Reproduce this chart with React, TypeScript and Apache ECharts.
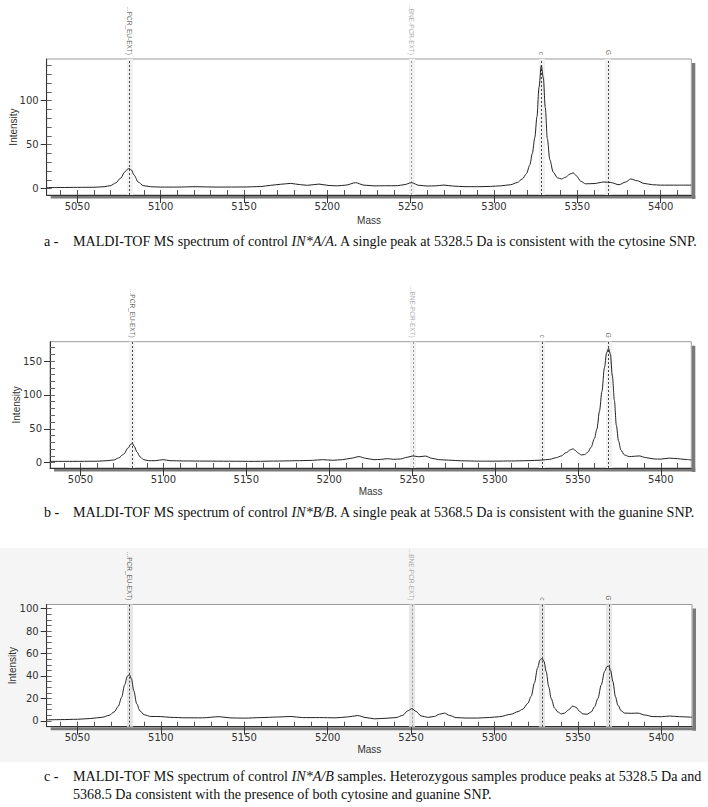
import React, { useEffect, useRef } from "react";
import * as echarts from "echarts";

// ---------- data ----------
const X_MIN = 5031.6;
const X_MAX = 5418.4;
const X_LABELS = [5050, 5100, 5150, 5200, 5250, 5300, 5350, 5400];
const X_MINOR = [5040, 5050, 5060, 5070, 5080, 5090, 5100, 5110, 5120, 5130, 5140, 5150, 5160, 5170, 5180, 5190, 5200, 5210, 5220, 5230, 5240, 5250, 5260, 5270, 5280, 5290, 5300, 5310, 5320, 5330, 5340, 5350, 5360, 5370, 5380, 5390, 5400, 5410];

const Y_LABELS_A = [0, 50, 100];
const Y_MINOR_A = [0, 10, 20, 30, 40, 50, 60, 70, 80, 90, 100, 110, 120, 130, 140];
const Y_LABELS_B = [0, 50, 100, 150];
const Y_MINOR_B = [0, 10, 20, 30, 40, 50, 60, 70, 80, 90, 100, 110, 120, 130, 140, 150, 160, 170];
const Y_LABELS_C = [0, 20, 40, 60, 80, 100];
const Y_MINOR_C = [0, 5, 10, 15, 20, 25, 30, 35, 40, 45, 50, 55, 60, 65, 70, 75, 80, 85, 90, 95, 100];

const MARKER_MASS = [5081.2, 5250.5, 5328.5, 5368.5];
const MARKER_NAMES = ["...PCR_EU-EXT)", "...BNE-PCR-EXT)", "c", "G"];

const SPECTRUM_A = [
  [5031.6, 1.2], [5040, 1.3], [5050, 1.5], [5060, 1.6], [5066, 2.2], [5070, 3.5], [5073, 6.5], [5076, 12],
  [5078.5, 19], [5080, 22], [5081.2, 23], [5082.5, 21], [5084, 15.5], [5086.5, 7.5], [5089.5, 3.5], [5094, 2.2],
  [5100, 1.8], [5110, 1.8], [5120, 2.2], [5135, 1.8], [5150, 1.9], [5160, 2.4], [5166, 3.8], [5172, 5],
  [5178, 6], [5184, 4.5], [5188, 3.8], [5195, 5.2], [5201, 3.6], [5206, 3.2], [5211, 4], [5217, 6.8],
  [5222, 4], [5228, 3.2], [5235, 3.3], [5242, 3.4], [5246, 4.5], [5250.5, 6.8], [5255, 3.8], [5260, 3],
  [5265, 3.2], [5270, 4.1], [5275, 3], [5282, 2.3], [5290, 2.2], [5298, 2.6], [5304, 3.2], [5310, 4.5],
  [5314, 7], [5317, 11], [5319.5, 17], [5321.5, 27], [5323, 40], [5324.5, 58], [5325.8, 82], [5327, 115],
  [5328.4, 140], [5329.6, 126], [5330.8, 92], [5332, 57], [5333.5, 33], [5335.5, 19], [5338, 12.5], [5340.5, 11],
  [5343, 13], [5345.5, 16.5], [5347.5, 18], [5349.5, 14.5], [5352, 8.5], [5355, 5.5], [5360, 5.8], [5366, 7.6],
  [5370, 7], [5375, 4.5], [5379, 7.5], [5382, 11], [5386, 9], [5390, 6], [5395, 4.5], [5400, 4],
  [5410, 4], [5418.4, 4],
];

const SPECTRUM_B = [
  [5031.5, 2], [5045, 2], [5060, 2.2], [5066, 3], [5070, 4], [5073, 7], [5076, 12.5], [5078.8, 22],
  [5080.2, 27], [5081.2, 28.5], [5082.5, 24], [5084, 16], [5086, 8.5], [5088, 4.5], [5091, 3], [5095, 3],
  [5100, 4.5], [5104, 3], [5112, 2.6], [5125, 2.4], [5140, 2.2], [5155, 2], [5170, 2.5], [5182, 3],
  [5190, 3.5], [5196, 4.5], [5202, 3.6], [5208, 4.5], [5213, 6.5], [5218, 9], [5222, 6.5], [5227, 4.5],
  [5231, 4.8], [5235, 6], [5239, 5], [5243, 5.5], [5247, 8], [5250.5, 10], [5254, 8.8], [5258, 9.8],
  [5262, 6.5], [5266, 4.5], [5272, 3.8], [5280, 2.8], [5290, 2.3], [5300, 2.3], [5310, 2.6], [5320, 3],
  [5328, 3.8], [5333, 5], [5337, 7.5], [5340, 10], [5343, 15], [5345.5, 19], [5347, 20.5], [5348.5, 18],
  [5350, 14.5], [5352, 11.5], [5354, 12], [5356, 15.5], [5358, 23], [5360, 36], [5361.5, 50], [5363, 76],
  [5364.5, 105], [5366, 140], [5367.3, 162], [5368.5, 168.5], [5369.6, 160], [5370.8, 128], [5372, 92], [5373.2, 55],
  [5374.5, 32], [5376, 18.5], [5378, 11.5], [5381, 9], [5384, 9.5], [5387, 10], [5391, 7.5], [5396, 5.5],
  [5400, 5.3], [5405, 6.8], [5410, 6], [5414, 5], [5418.5, 4],
];

const SPECTRUM_C = [
  [5031.6, 1], [5040, 1.2], [5050, 1.5], [5058, 2.2], [5065, 3.3], [5069, 5], [5072, 8], [5074.5, 13],
  [5076.5, 21], [5078.3, 32], [5080, 40], [5081.2, 41.3], [5082.4, 37.5], [5083.8, 27], [5085.5, 15.5], [5087.5, 9],
  [5090, 5.5], [5094, 4], [5100, 3.9], [5106, 3.2], [5115, 2.8], [5125, 2.8], [5135, 3.8], [5142, 2.7],
  [5150, 2.5], [5160, 3], [5170, 3.5], [5178, 4], [5185, 3], [5195, 3], [5205, 2.8], [5212, 3.6],
  [5218, 4.8], [5223, 3], [5228, 1.9], [5235, 2.4], [5241, 3], [5245, 5], [5248, 9], [5250.5, 11],
  [5253, 8.5], [5256, 4.5], [5260, 3.2], [5264, 4], [5267, 6], [5270, 7], [5273, 5], [5277, 3],
  [5283, 2.6], [5290, 2.6], [5297, 3.1], [5303, 3.8], [5310, 6], [5314, 8.3], [5317, 10.5], [5320, 15.7],
  [5322, 22], [5324, 34], [5325.8, 47], [5327.2, 54], [5328.5, 55.7], [5329.7, 53], [5331, 44], [5332.5, 30.5],
  [5334, 20], [5336, 11.5], [5338, 8], [5340, 6.3], [5342, 7], [5344.5, 10], [5347, 13.3], [5349, 12],
  [5351, 8.5], [5353, 6.3], [5355.5, 6], [5358, 8], [5360, 12.7], [5362, 20], [5364, 32], [5366, 44],
  [5367.5, 48.5], [5368.5, 48.9], [5369.6, 45], [5371, 35], [5372.5, 21.6], [5374, 14], [5376, 9], [5378, 7],
  [5382, 6.8], [5386, 7], [5390, 5.3], [5395, 3.9], [5400, 3.8], [5405, 4.4], [5411, 3.8], [5418.4, 3.3],
];

const CAPTION_A = ["MALDI-TOF MS spectrum of control ", "IN*A/A", ". A single peak at 5328.5 Da is consistent with the cytosine SNP."];
const CAPTION_B = ["MALDI-TOF MS spectrum of control ", "IN*B/B", ". A single peak at 5368.5 Da is consistent with the guanine SNP."];
const CAPTION_C1 = ["MALDI-TOF MS spectrum of control ", "IN*A/B", " samples. Heterozygous samples produce peaks at 5328.5 Da and"];
const CAPTION_C2 = "5368.5 Da consistent with the presence of both cytosine and guanine SNP.";

// ---------- layout / style ----------
const SANS = "Liberation Sans";
const TICK_FONT = "DejaVu Sans";
const SERIF = "Liberation Serif";
const CAP_SIZE = 14.1;
const PANELS = [
  { data: SPECTRUM_A, yLabels: Y_LABELS_A, yMinor: Y_MINOR_A, left: 46.7, top: 59, width: 644.6, height: 136, yMin: -7.2, yMax: 147.4, massGap: 20, intGap: 28.5, band: "#f1f1f1" },
  { data: SPECTRUM_B, yLabels: Y_LABELS_B, yMinor: Y_MINOR_B, left: 50, top: 341.7, width: 641.3, height: 126.3, yMin: -7.8, yMax: 178.5, massGap: 18, intGap: 28.5, band: "#f1f1f1" },
  { data: SPECTRUM_C, yLabels: Y_LABELS_C, yMinor: Y_MINOR_C, left: 46.7, top: 604.5, width: 645.3, height: 122.2, yMin: -5.1, yMax: 103.6, massGap: 17.5, intGap: 29, band: "#e6e6e6" },
];
const MARKER_COLORS = ["#444", "#9a9a9a", "#444", "#444"];

function captionText(parts: string[]) {
  return `{r|${parts[0]}}{i|${parts[1]}}{r|${parts[2]}}`;
}
const captionRich = {
  r: { fontFamily: SERIF, fontSize: CAP_SIZE, fill: "#111" },
  i: { fontFamily: SERIF, fontSize: CAP_SIZE, fill: "#111", fontStyle: "italic" },
};

export default function App() {
  const ref = useRef<HTMLDivElement>(null);
  useEffect(() => {
    if (!ref.current) return;
    const chart = echarts.init(ref.current, undefined, { renderer: "svg" });

    const grid: any[] = [];
    const xAxis: any[] = [];
    const yAxis: any[] = [];
    const series: any[] = [];
    const graphic: any[] = [];

    graphic.push({ type: "rect", z: -10, shape: { x: 0, y: 548, width: 708, height: 214 }, style: { fill: "#f5f5f5" } });

    PANELS.forEach((p, i) => {
      grid.push({
        left: p.left, top: p.top, width: p.width, height: p.height,
        show: true, borderColor: "#9a9a9a", borderWidth: 1, backgroundColor: "#fff",
        containLabel: false, outerBoundsMode: "none",
      });
      graphic.push({ type: "rect", z: -5, shape: { x: p.left + p.width + 0.5, y: p.top + 4, width: 3.5, height: p.height }, style: { fill: "#7a7a7a" } });
      graphic.push({ type: "rect", z: -5, shape: { x: p.left + 4, y: p.top + p.height + 0.5, width: p.width, height: 3 }, style: { fill: "#7a7a7a" } });

      xAxis.push({
        type: "value", gridIndex: i, min: X_MIN, max: X_MAX, position: "bottom",
        axisLine: { show: true, onZero: false, lineStyle: { color: "#333", width: 1 } },
        axisTick: { show: true, customValues: X_LABELS, length: 8, inside: false, lineStyle: { color: "#333" } },
        axisLabel: { show: true, customValues: X_LABELS, margin: 6, fontSize: 10, fontFamily: TICK_FONT, color: "#333", formatter: (v: number) => String(v) },
        splitLine: { show: false },
        name: "Mass", nameLocation: "middle", nameGap: p.massGap, nameMoveOverlap: false,
        nameTextStyle: { fontSize: 10, fontFamily: SANS, color: "#333" },
      });
      xAxis.push({
        type: "value", gridIndex: i, min: X_MIN, max: X_MAX, position: "top", offset: -p.height,
        axisLine: { show: false, onZero: false },
        axisTick: { show: true, customValues: X_MINOR, length: 5, inside: false, lineStyle: { color: "#555" } },
        axisLabel: { show: false },
        splitLine: { show: false },
      });
      yAxis.push({
        type: "value", gridIndex: i, min: p.yMin, max: p.yMax, position: "left",
        axisLine: { show: true, onZero: false, lineStyle: { color: "#333", width: 1 } },
        axisTick: { show: true, customValues: p.yLabels, length: 6, inside: false, lineStyle: { color: "#333" } },
        axisLabel: { show: true, customValues: p.yLabels, margin: 8, fontSize: 10, fontFamily: TICK_FONT, color: "#333", formatter: (v: number) => String(v) },
        splitLine: { show: false },
        name: "Intensity", nameLocation: "middle", nameGap: p.intGap, nameRotate: 90, nameMoveOverlap: false,
        nameTextStyle: { fontSize: 10, fontFamily: SANS, color: "#333" },
      });
      yAxis.push({
        type: "value", gridIndex: i, min: p.yMin, max: p.yMax, position: "right", offset: -p.width,
        axisLine: { show: false, onZero: false },
        axisTick: { show: true, customValues: p.yMinor, length: 5, inside: false, lineStyle: { color: "#666" } },
        axisLabel: { show: false },
        splitLine: { show: false },
      });

      const bands = MARKER_MASS.map((m) => ({ xAxis: m, lineStyle: { color: p.band, width: 6, type: "solid" } }));
      const dashes = MARKER_MASS.map((m, k) => ({ xAxis: m, lineStyle: { color: MARKER_COLORS[k], width: 1, type: [2, 2] } }));

      series.push({
        type: "line", xAxisIndex: 2 * i, yAxisIndex: 2 * i,
        data: p.data, showSymbol: false, symbol: "none", smooth: 0.3, smoothMonotone: "x",
        lineStyle: { color: "#222", width: 1 }, silent: true, z: 3,
        markLine: {
          silent: true, symbol: ["none", "none"], animation: false, z: 1,
          label: { show: false },
          data: [...bands, ...dashes],
        },
      });
      series.push({
        type: "scatter", xAxisIndex: 2 * i, yAxisIndex: 2 * i, symbolSize: 0, silent: true,
        data: MARKER_MASS.map((m, k) => ({
          value: [m, p.yMax],
          label: { formatter: MARKER_NAMES[k], color: MARKER_COLORS[k] },
        })),
        label: {
          show: true, position: "top", distance: 4, rotate: -90, align: "right", verticalAlign: "middle",
          fontSize: 6.5, fontFamily: SANS,
        },
      });
    });

    const plain = (t: string) => ({ text: t, fontFamily: SERIF, fontSize: CAP_SIZE, fill: "#111", verticalAlign: "middle" });
    graphic.push({ type: "text", x: 44, y: 241, style: plain("a -") });
    graphic.push({ type: "text", x: 73, y: 241, style: { text: captionText(CAPTION_A), rich: captionRich, verticalAlign: "middle" } });
    graphic.push({ type: "text", x: 44, y: 512, style: plain("b -") });
    graphic.push({ type: "text", x: 73, y: 512, style: { text: captionText(CAPTION_B), rich: captionRich, verticalAlign: "middle" } });
    graphic.push({ type: "text", x: 44, y: 776, style: plain("c -") });
    graphic.push({ type: "text", x: 73, y: 776, style: { text: captionText(CAPTION_C1), rich: captionRich, verticalAlign: "middle" } });
    graphic.push({ type: "text", x: 73, y: 794, style: plain(CAPTION_C2) });

    chart.setOption({
      animation: false,
      backgroundColor: "#fff",
      grid, xAxis, yAxis, series, graphic,
    });
    return () => chart.dispose();
  }, []);
  return <div ref={ref} style={{ position: "absolute", left: 0, top: 0, width: 708, height: 807 }} />;
}
